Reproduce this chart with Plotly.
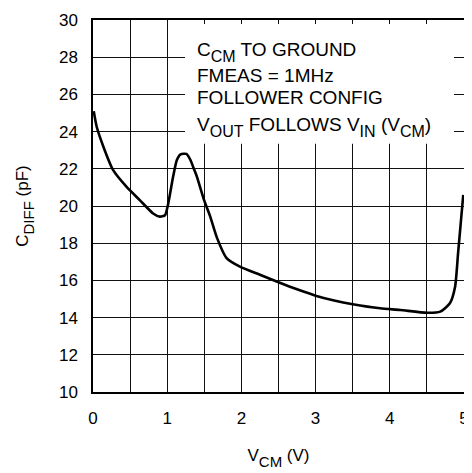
import plotly.graph_objects as go

# Curve data
vcm = [0.01, 0.05, 0.14, 0.27, 0.45, 0.63, 0.81, 0.90, 0.97, 1.01, 1.08, 1.13, 1.18,
       1.26, 1.31, 1.35, 1.40, 1.49, 1.53, 1.58, 1.67, 1.80, 1.98, 2.25, 2.50, 2.75,
       3.00, 3.25, 3.50, 3.87, 4.14, 4.50, 4.68, 4.81, 4.88, 4.92, 4.96, 4.99]
cdiff = [25.10, 24.26, 23.19, 21.94, 21.04, 20.32, 19.60, 19.43, 19.50, 20.05, 21.58, 22.47, 22.78,
         22.80, 22.50, 22.10, 21.58, 20.40, 19.96, 19.43, 18.30, 17.20, 16.74, 16.30, 15.90, 15.52,
         15.18, 14.92, 14.72, 14.50, 14.41, 14.26, 14.32, 14.77, 15.66, 17.45, 19.25, 20.60]

x_ticks = [0, 1, 2, 3, 4, 5]
y_ticks = [10, 12, 14, 16, 18, 20, 22, 24, 26, 28, 30]


def sub(s, size=15, shift=-6):
    return f'<span style="font-size:{size}px;baseline-shift:{shift}px">{s}</span>'


notes = [
    "C" + sub("CM", 16) + " TO GROUND",
    "FMEAS = 1MHz",
    "FOLLOWER CONFIG",
    "V" + sub("OUT", 16) + " FOLLOWS V" + sub("IN", 16) + " (V" + sub("CM", 16) + ")",
]
note_y = [28.28, 26.99, 25.83, 24.25]

FONT = "Liberation Sans, Arial, sans-serif"

fig = go.Figure()
fig.add_trace(go.Scatter(
    x=vcm, y=cdiff, mode="lines",
    line=dict(color="black", width=2.6, shape="spline", smoothing=0.6),
    showlegend=False, hoverinfo="skip",
))

# white box behind the notes, hiding the grid
fig.add_shape(type="rect", xref="x", yref="y", x0=1.24, x1=4.865, y0=23.35, y1=29.78,
              fillcolor="white", line=dict(width=0), layer="between")

for t, yy in zip(notes, note_y):
    fig.add_annotation(x=1.38, y=yy, xref="x", yref="y", text=t, showarrow=False,
                       xanchor="left", yanchor="middle",
                       font=dict(family=FONT, size=19, color="black"))

axis_common = dict(
    showline=True, linecolor="black", linewidth=1.5, mirror=True,
    showgrid=True, gridcolor="#111", gridwidth=1,
    zeroline=False, ticks="",
    tickfont=dict(family=FONT, size=17, color="black"),
)

fig.update_xaxes(range=[0, 5], tickmode="array", tickvals=x_ticks,
                 ticktext=[str(v) for v in x_ticks],
                 minor=dict(dtick=0.5, showgrid=True, gridcolor="#111", gridwidth=1),
                 title=dict(text="V" + sub("CM") + " (V)",
                            font=dict(family=FONT, size=17, color="black"),
                            standoff=22),
                 ticklabelstandoff=10,
                 **axis_common)
fig.update_yaxes(range=[10, 30], tickmode="array", tickvals=y_ticks,
                 ticktext=[str(v) for v in y_ticks],
                 title=dict(text="C" + sub("DIFF") + " (pF)",
                            font=dict(family=FONT, size=17, color="black"),
                            standoff=26),
                 ticklabelstandoff=10,
                 **axis_common)

# the page body adds an 8px offset; size the figure so the plot area lands where the reference has it
fig.update_layout(
    width=472, height=473,
    margin=dict(l=85, r=16, t=12, b=89, autoexpand=False),
    paper_bgcolor="white", plot_bgcolor="white",
    font=dict(family=FONT, color="black"),
)

fig.write_html("out.html")
